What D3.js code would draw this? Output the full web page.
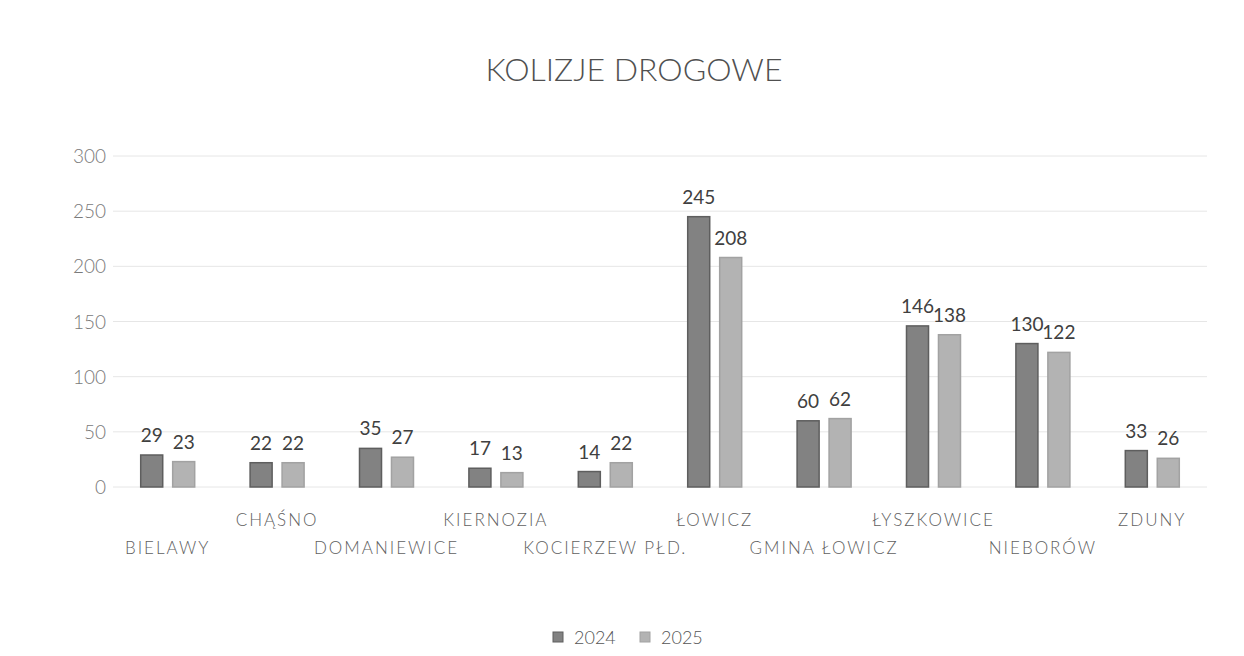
<!doctype html>
<html>
<head>
<meta charset="utf-8"/>
<title>Kolizje drogowe</title>
<script src="https://cdnjs.cloudflare.com/ajax/libs/d3/7.8.5/d3.min.js"></script>
<style>
  body { margin: 0; background: #fff; }
  text { font-family: Lato, "Open Sans", sans-serif; }
</style>
</head>
<body>
<svg id="chart" width="1244" height="656"></svg>
<script>
var categories = ["BIELAWY", "CHĄŚNO", "DOMANIEWICE", "KIERNOZIA", "KOCIERZEW PŁD.",
                  "ŁOWICZ", "GMINA ŁOWICZ", "ŁYSZKOWICE", "NIEBORÓW", "ZDUNY"];
var years = ["2024", "2025"];
var values2024 = [29, 22, 35, 17, 14, 245, 60, 146, 130, 33];
var values2025 = [23, 22, 27, 13, 22, 208, 62, 138, 122, 26];
var yTicks = [0, 50, 100, 150, 200, 250, 300];

var svg = d3.select("#chart");
var plotLeft = 113, plotRight = 1207, plotTop = 156, plotBottom = 487;

var x = d3.scaleBand().domain(categories).range([plotLeft, plotRight]);
var x1 = d3.scaleBand().domain(years).range([0, 55]).paddingInner(0.28);
var y = d3.scaleLinear().domain([0, 300]).range([plotBottom, plotTop]);
var fill = d3.scaleOrdinal().domain(years).range(["#828282", "#b3b3b3"]);
var edge = d3.scaleOrdinal().domain(years).range(["#5e5e5e", "#a2a2a2"]);

// title
svg.append("text")
  .attr("x", 634).attr("y", 81)
  .attr("text-anchor", "middle")
  .style("font-size", "32px").style("font-weight", 300)
  .style("fill", "#505050")
  .text("KOLIZJE DROGOWE");

// gridlines
svg.append("g").selectAll("line")
  .data(yTicks).enter().append("line")
  .attr("x1", plotLeft).attr("x2", plotRight)
  .attr("y1", d => y(d)).attr("y2", d => y(d))
  .style("stroke", "#e6e6e6").style("stroke-width", 1);

// y labels
svg.append("g").selectAll("text")
  .data(yTicks).enter().append("text")
  .attr("x", 106).attr("y", d => y(d) + 7)
  .attr("text-anchor", "end")
  .style("font-size", "19px").style("font-weight", 300)
  .style("fill", "#7a7a7a")
  .text(d => d);

var rows = categories.map((c, i) => ({ cat: c, vals: [values2024[i], values2025[i]] }));

var groups = svg.append("g").selectAll("g.grp")
  .data(rows).enter().append("g")
  .attr("class", "grp")
  .attr("transform", d => "translate(" + (x(d.cat) + x.bandwidth() / 2 - 27.5) + ",0)");

groups.each(function (d) {
  var g = d3.select(this);
  var pairs = years.map((yr, k) => ({ yr: yr, v: d.vals[k] }));
  g.selectAll("rect").data(pairs).enter().append("rect")
    .attr("x", p => x1(p.yr) + 0.5)
    .attr("y", p => y(p.v))
    .attr("width", x1.bandwidth() - 1)
    .attr("height", p => y(0) - y(p.v))
    .style("fill", p => fill(p.yr))
    .style("stroke", p => edge(p.yr))
    .style("stroke-width", 1.5);
  g.selectAll("text").data(pairs).enter().append("text")
    .attr("x", p => x1(p.yr) + x1.bandwidth() / 2)
    .attr("y", p => y(p.v) - 13)
    .attr("text-anchor", "middle")
    .style("font-size", "19px").style("fill", "#404040")
    .text(p => p.v);
});

// category labels, staggered on two rows
svg.append("g").selectAll("text")
  .data(categories).enter().append("text")
  .attr("x", d => x(d) + x.bandwidth() / 2)
  .attr("y", (d, i) => i % 2 === 0 ? 554 : 526)
  .attr("text-anchor", "middle")
  .style("font-size", "17px").style("letter-spacing", "2px")
  .style("font-weight", 300)
  .style("fill", "#5f5f5f")
  .text(d => d);

// legend
var legend = svg.append("g").selectAll("g")
  .data(years).enter().append("g")
  .attr("transform", (d, i) => "translate(" + (553 + i * 87) + ",637)");
legend.append("rect")
  .attr("x", 0).attr("y", -5).attr("width", 10).attr("height", 10)
  .style("fill", d => fill(d)).style("stroke", d => edge(d));
legend.append("text")
  .attr("x", 21).attr("y", 7)
  .style("font-size", "18px").style("font-weight", 300)
  .style("fill", "#555")
  .text(d => d);
</script>
</body>
</html>
